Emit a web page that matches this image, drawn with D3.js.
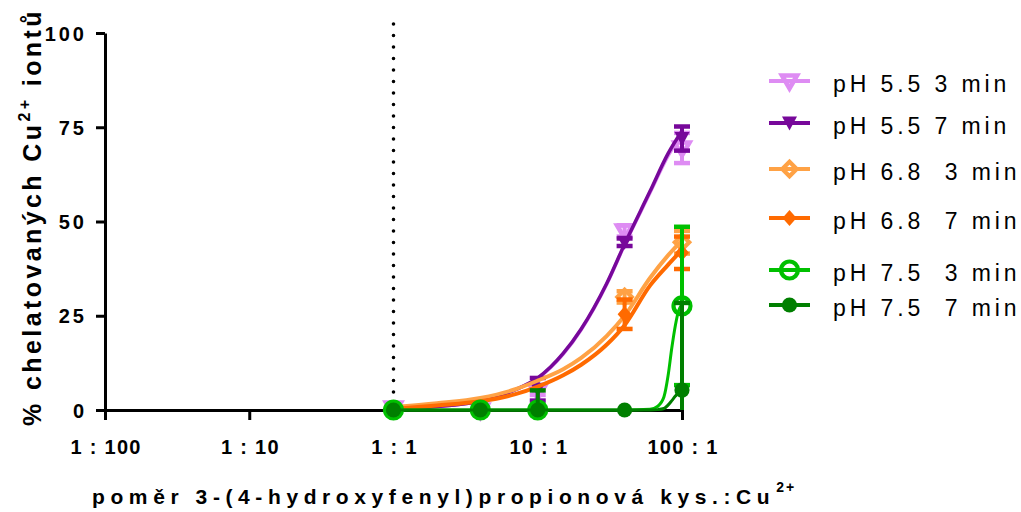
<!DOCTYPE html>
<html>
<head>
<meta charset="utf-8">
<script src="https://cdn.jsdelivr.net/npm/d3@7"></script>
<style>
  body { margin: 0; background: #fff; }
  svg { display: block; }
  text { font-family: "Liberation Sans", Arial, sans-serif; fill: #000; }
</style>
</head>
<body>
<svg id="chart" width="1021" height="512"></svg>
<script>
// Axis ticks
const ratioTicks = [0.01, 0.1, 1, 10, 100];
const ratioTickLabels = ["1 : 100", "1 : 10", "1 : 1", "10 : 1", "100 : 1"];
const percentTicks = [0, 25, 50, 75, 100];

// Measured ratios (acid : Cu2+)
const ratios = [1, 4, 10, 40, 100];

// Series
const seriesNames = ["pH 5.5 3 min", "pH 5.5 7 min", "pH 6.8  3 min", "pH 6.8  7 min", "pH 7.5  3 min", "pH 7.5  7 min"];
const seriesColors = ["#DE8CF3", "#77089A", "#FFA245", "#FF6A00", "#00C000", "#007F00"];
const seriesSymbols = ["triOpen", "tri", "diaOpen", "dia", "circOpen", "circ"];

// Mean % chelated and SD at each ratio (null = not measured)
const ph55_3min = [0.5, 0, 5, 47.5, 69.5];
const ph55_3minSD = [0, 0, 1, 1.5, 4];
const ph55_7min = [0, 0, 5.5, 44.5, 72];
const ph55_7minSD = [0, 0, 3, 1, 3.2];
const ph68_3min = [0, 0, 0, 30, 44.5];
const ph68_3minSD = [0, 0, 0, 1.5, 3];
const ph68_7min = [0, 0, 0, 25.4, 41.7];
const ph68_7minSD = [0, 0, 0, 3.9, 4.3];
const ph75_3min = [0, 0, 0, null, 27.6];
const ph75_3minSD = [0, 0, 0, 0, 21];
const ph75_7min = [0, 0, 0, 0, 5.3];
const ph75_7minSD = [0, 0, 5.2, 0, 23.1];

// Fitted curves
const fitRatios = [1, 2, 4, 7, 10, 15, 20, 30, 40, 60, 80, 100];
const ph55_3minFit = [0.3, 0.9, 2.4, 5.4, 8.4, 14.8, 21.3, 33.3, 43.8, 57.6, 67.4, 73.2];
const ph55_7minFit = [0.3, 0.9, 2.4, 5.4, 8.5, 15, 21.5, 33.5, 44, 58, 68, 74];
const ph68_3minFit = [0.8, 1.8, 3.2, 5.5, 7.8, 10.8, 13.8, 19.6, 25, 35, 41, 45];
const ph68_7minFit = [0.3, 1.2, 2.3, 4.2, 6.2, 9.2, 12, 17.3, 22.5, 33, 38.5, 42.5];
const greenFitRatios = [1, 10, 40, 60, 68, 75, 80, 85, 90, 95, 100];
const ph75_3minFit = [0, 0, 0, 0.2, 1, 3.5, 9, 16.5, 22.5, 26.5, 28];
const ph75_7minFit = [0, 0, 0, 0, 0.1, 0.4, 1.3, 2.5, 3.7, 4.7, 5.3];

const means = [ph55_3min, ph55_7min, ph68_3min, ph68_7min, ph75_3min, ph75_7min];
const sds = [ph55_3minSD, ph55_7minSD, ph68_3minSD, ph68_7minSD, ph75_3minSD, ph75_7minSD];
const fitX = [fitRatios, fitRatios, fitRatios, fitRatios, greenFitRatios, greenFitRatios];
const fitY = [ph55_3minFit, ph55_7minFit, ph68_3minFit, ph68_7minFit, ph75_3minFit, ph75_7minFit];
const fitWidths = [3.5, 3.5, 4, 4, 3, 3];

const svg = d3.select("#chart");
const x = d3.scaleLog().domain([0.01, 100]).range([105, 682]);
const y = d3.scaleLinear().domain([0, 100]).range([410, 33]);

// Marker shapes, centred on their bounding box
function symbolPath(kind) {
  switch (kind) {
    case "triOpen": return "M-7.5,-5.5L7.5,-5.5L0,7.5Z";
    case "tri": return "M-7.5,-6.5L7.5,-6.5L0,7.5Z";
    case "diaOpen": return "M0,-7.2L7.2,0L0,7.2L-7.2,0Z";
    case "dia": return "M0,-8L7,0L0,8L-7,0Z";
    case "circOpen": { const p = d3.path(); p.arc(0, 0, 8.5, 0, 2 * Math.PI); return p.toString(); }
    default: { const p = d3.path(); p.arc(0, 0, 7.6, 0, 2 * Math.PI); return p.toString(); }
  }
}
function styleMarker(sel, kind, color) {
  const open = kind.endsWith("Open");
  sel.attr("d", symbolPath(kind))
    .attr("fill", open ? "none" : color)
    .attr("stroke", open ? color : "none")
    .attr("stroke-width", kind === "triOpen" ? 4.6 : 4.2)
    .attr("stroke-linejoin", "miter")
    .attr("stroke-miterlimit", 10);
}

// 1:1 reference line
svg.append("line")
  .attr("x1", x(1)).attr("x2", x(1))
  .attr("y1", 24).attr("y2", 404)
  .attr("stroke", "#000").attr("stroke-width", 3.6)
  .attr("stroke-linecap", "round")
  .attr("stroke-dasharray", "0 11.5");

// Axes
const tickFont = 20;
const xAxisG = svg.append("g")
  .attr("transform", `translate(0,${y(0)})`)
  .call(d3.axisBottom(x).tickValues(ratioTicks)
    .tickFormat((d, i) => ratioTickLabels[i]).tickSize(10).tickSizeOuter(0));
xAxisG.selectAll("text")
  .attr("y", 44).attr("dy", 0).attr("dx", 0.6)
  .style("font-size", tickFont + "px").style("font-weight", "bold")
  .style("letter-spacing", "1.3px").style("white-space", "pre");

const yAxisG = svg.append("g")
  .attr("transform", `translate(${x(0.01)},0)`)
  .call(d3.axisLeft(y).tickValues(percentTicks).tickSize(9).tickSizeOuter(0));
yAxisG.selectAll("text")
  .attr("x", -18).attr("dy", "0.36em").attr("dx", 0)
  .style("font-size", tickFont + "px").style("font-weight", "bold")
  .style("letter-spacing", "3px");

svg.selectAll(".domain, .tick line")
  .attr("stroke", "#000").attr("stroke-width", 3);
svg.selectAll(".tick text").attr("fill", "#000");

// Axis titles
const yTitle = svg.append("text")
  .attr("transform", "translate(41,217) rotate(-90)")
  .attr("text-anchor", "middle")
  .style("font-size", "25px").style("font-weight", "bold")
  .style("letter-spacing", "3.4px");
yTitle.append("tspan").text("% chelatovaných Cu");
yTitle.append("tspan").text("2+").style("font-size", "16px").attr("dy", -11);
yTitle.append("tspan").text(" iontů").style("font-size", "25px").attr("dy", 11);

const xTitle = svg.append("text")
  .attr("x", 92).attr("y", 504)
  .style("font-size", "21px").style("font-weight", "bold")
  .style("letter-spacing", "5.6px");
xTitle.append("tspan").text("poměr 3-(4-hydroxyfenyl)propionová kys.:Cu");
xTitle.append("tspan").text("2+").style("font-size", "14px").style("letter-spacing", "2px")
  .attr("dx", 1).attr("dy", -12);

// Data series
const fitLine = d3.line().curve(d3.curveMonotoneX);
means.forEach((m, s) => {
  const color = seriesColors[s];
  const g = svg.append("g");
  const pts = fitX[s].map((r, i) => [x(r), y(fitY[s][i])]);
  g.append("path")
    .attr("d", fitLine(pts))
    .attr("fill", "none").attr("stroke", color)
    .attr("stroke-width", fitWidths[s]);

  ratios.forEach((r, i) => {
    const sd = sds[s][i];
    if (m[i] == null || sd <= 0) return;
    const lo = Math.max(0, m[i] - sd), hi = Math.min(100, m[i] + sd);
    const cx = x(r);
    g.append("line")
      .attr("x1", cx).attr("x2", cx).attr("y1", y(lo)).attr("y2", y(hi))
      .attr("stroke", color).attr("stroke-width", 4);
    [[m[i] + sd, hi], [m[i] - sd, lo]].forEach(([v, c]) => {
      if (v !== c) return;
      g.append("line")
        .attr("x1", cx - 8).attr("x2", cx + 8).attr("y1", y(v)).attr("y2", y(v))
        .attr("stroke", color).attr("stroke-width", 4.5);
    });
  });

  ratios.forEach((r, i) => {
    if (m[i] == null) return;
    g.append("path")
      .attr("transform", `translate(${x(r)},${y(m[i])})`)
      .call(styleMarker, seriesSymbols[s], color);
  });
});

// Legend
const legendRows = [81, 123, 169, 218, 270, 305];
const legend = svg.append("g");
seriesNames.forEach((name, s) => {
  const ry = legendRows[s];
  const color = seriesColors[s];
  legend.append("line")
    .attr("x1", 769).attr("x2", 810).attr("y1", ry).attr("y2", ry)
    .attr("stroke", color).attr("stroke-width", 4);
  legend.append("path")
    .attr("transform", `translate(789.5,${ry})`)
    .call(styleMarker, seriesSymbols[s], color);
  legend.append("text")
    .attr("x", 833).attr("y", ry + 11)
    .style("font-size", "23px").style("letter-spacing", "3.9px")
    .style("white-space", "pre")
    .text(name);
});
</script>
</body>
</html>
